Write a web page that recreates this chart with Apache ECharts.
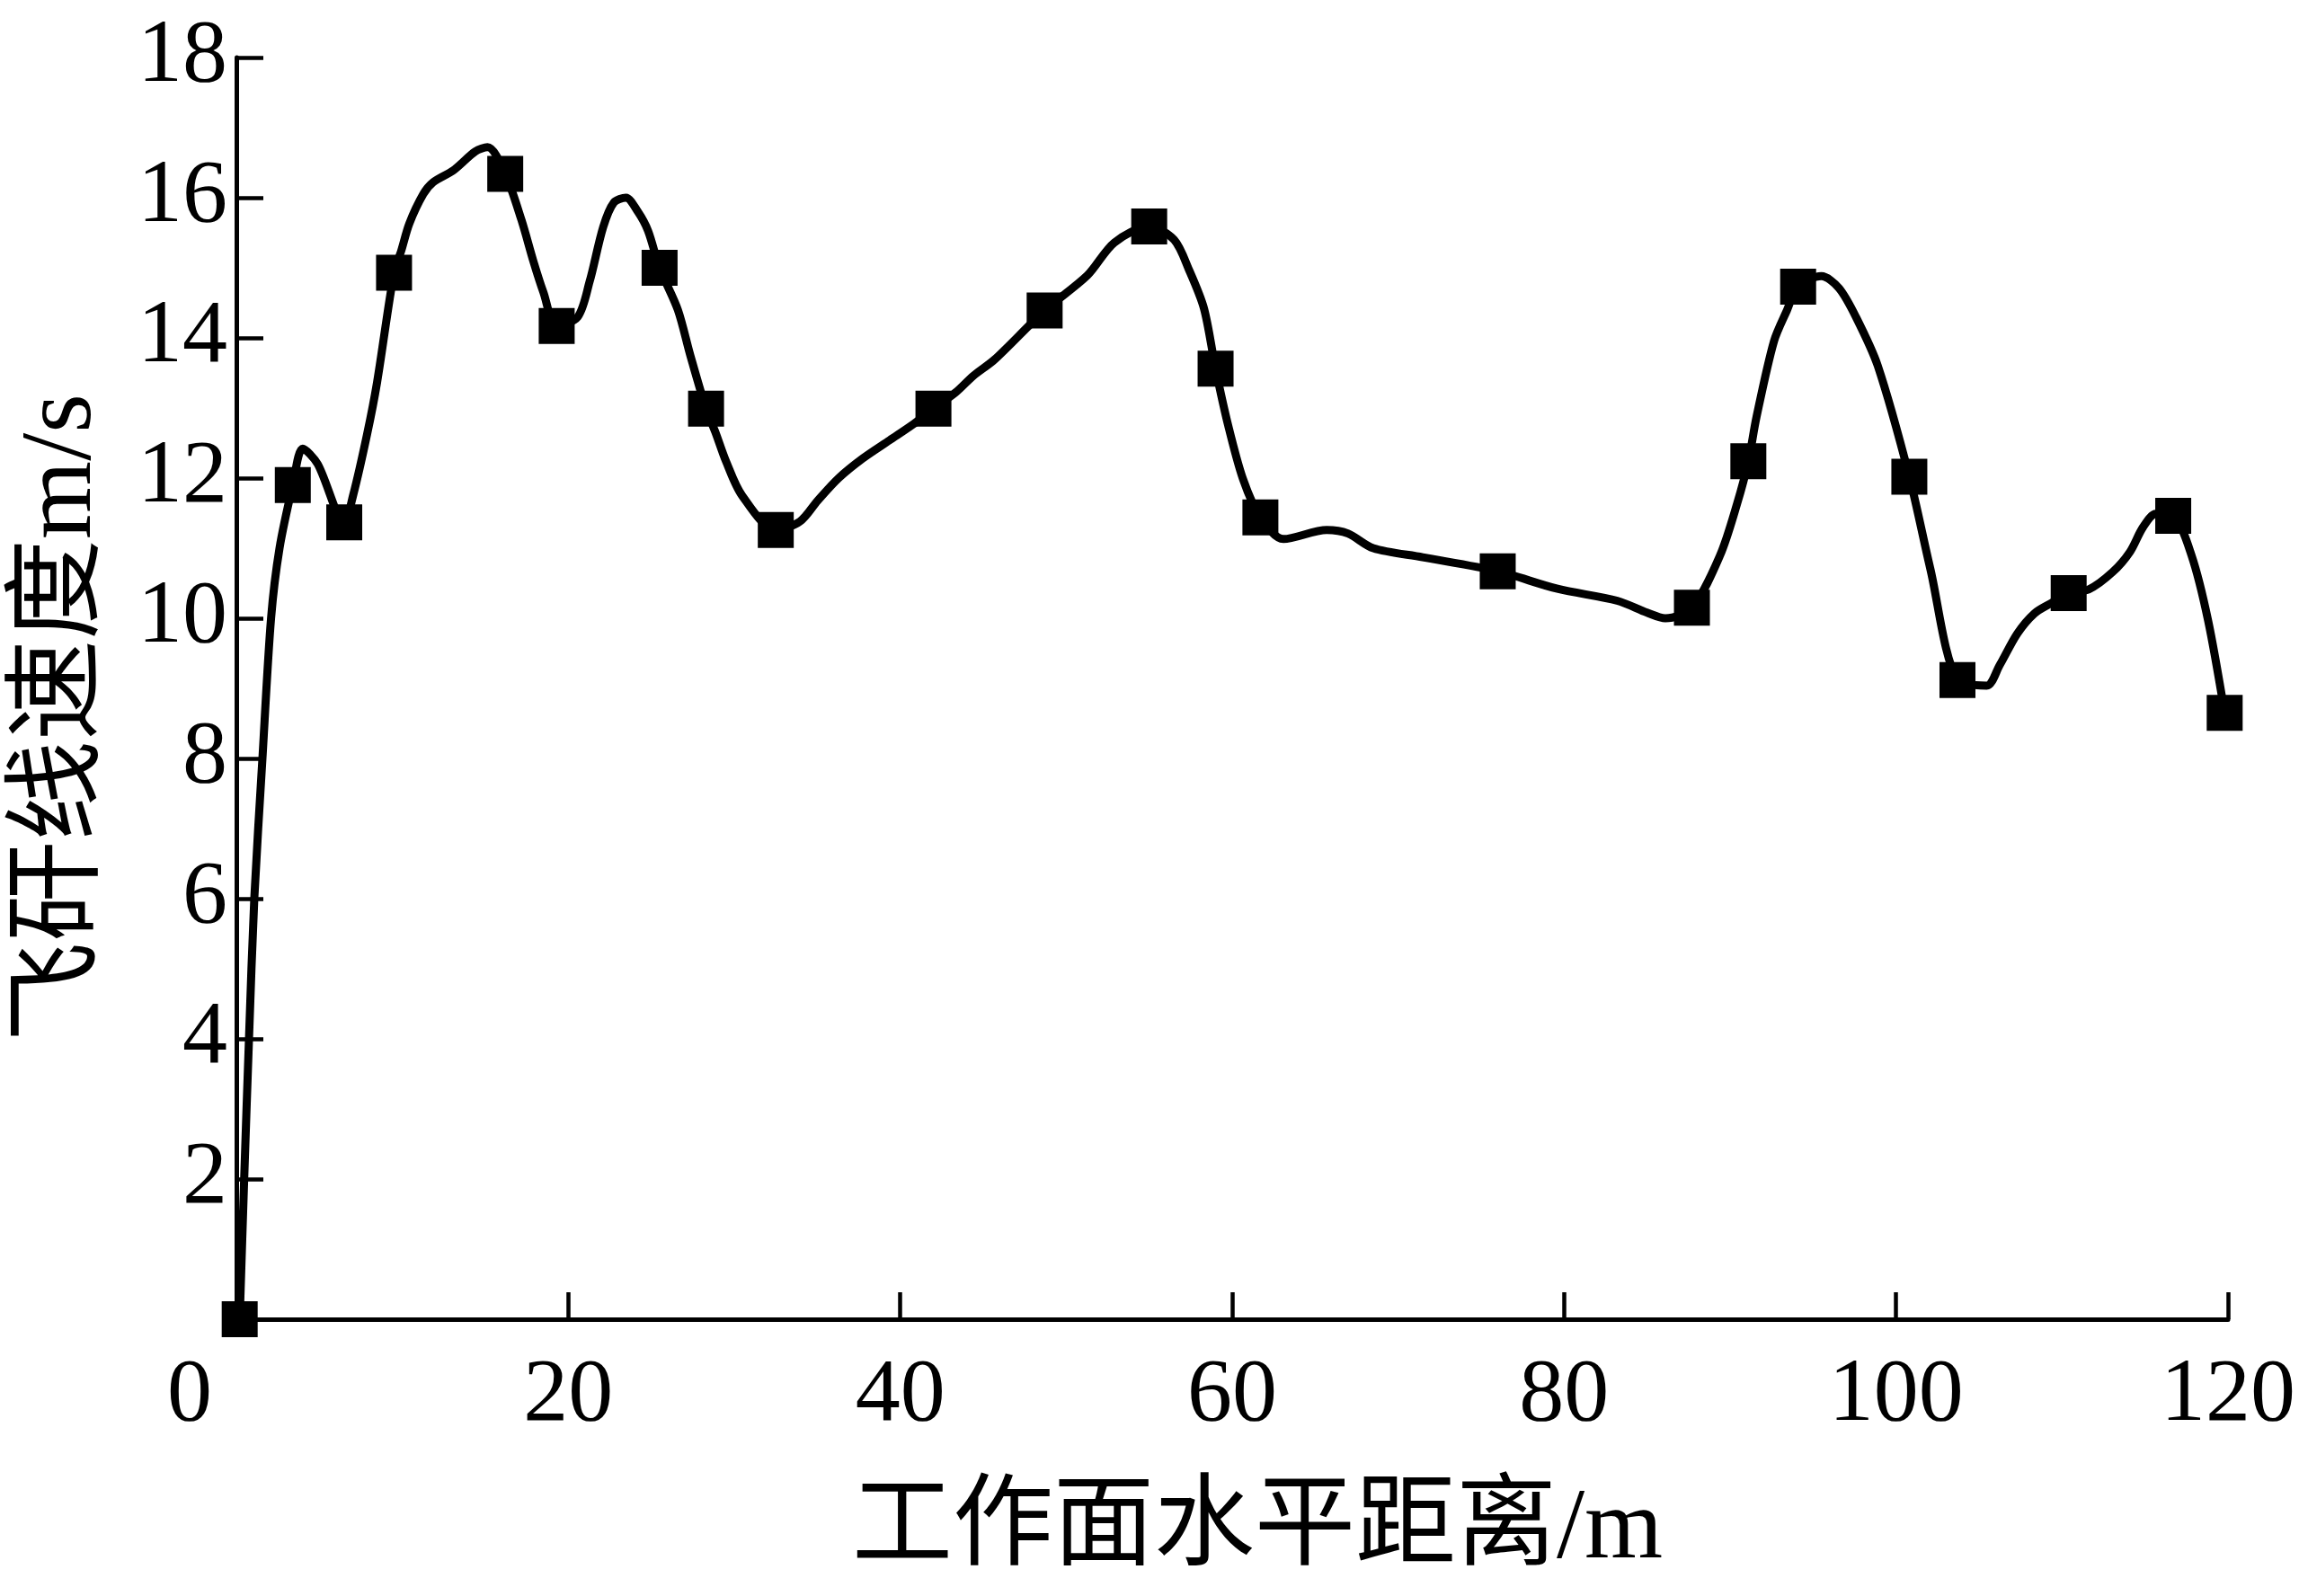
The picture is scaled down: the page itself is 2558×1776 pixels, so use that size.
<!DOCTYPE html>
<html>
<head>
<meta charset="utf-8">
<script src="https://cdn.jsdelivr.net/npm/echarts@6.0.0/dist/echarts.min.js"></script>
<style>
html,body{margin:0;padding:0;background:#fff;}
#chart{width:2558px;height:1776px;}
</style>
</head>
<body>
<div id="chart"></div>
<script>
// Marker points (horizontal distance m, velocity m/s)
const markerX = [0.2, 3.4, 6.5, 9.5, 16.2, 19.3, 25.5, 28.3, 32.5, 42.0, 48.7, 55.0, 59.0, 61.7, 76.0, 87.7, 91.1, 94.1, 100.8, 103.7, 110.4, 116.7, 119.8];
const markerY = [0, 11.9, 11.37, 14.93, 16.34, 14.17, 15.0, 12.99, 11.26, 12.99, 14.39, 15.59, 13.56, 11.44, 10.67, 10.15, 12.24, 14.73, 12.02, 9.12, 10.36, 11.46, 8.65];

// Fitted curve
const curveX = [0.2, 0.47, 0.76, 1.08, 1.57, 2.09, 2.6, 3.4, 4.0, 4.9, 6.5, 7.03, 7.88, 8.48, 9.5, 9.93, 10.42, 11.26, 11.86, 13.07, 14.4, 15.13, 16.2, 17.18, 17.9, 18.5, 19.3, 20.57, 21.28, 22.1, 22.74, 23.47, 24.19, 24.8, 25.5, 26.6, 27.34, 28.3, 28.9, 29.5, 30.47, 32.5, 33.95, 35.03, 36.29, 37.74, 39.36, 40.8, 42.0, 43.33, 44.41, 45.68, 48.7, 51.27, 52.9, 55.0, 56.5, 57.4, 58.3, 59.0, 59.76, 60.66, 61.7, 63.09, 65.7, 66.97, 68.5, 71.48, 76.0, 79.6, 83.2, 85.0, 86.1, 87.7, 89.4, 90.43, 91.1, 91.59, 92.64, 93.42, 94.1, 95.5, 96.56, 97.6, 98.9, 100.8, 102.06, 103.7, 105.46, 106.24, 107.3, 108.34, 109.38, 110.4, 111.6, 113.05, 114.1, 114.88, 115.66, 116.7, 117.8, 118.8, 119.8];
const curveY = [0, 2, 4, 6, 8, 10, 11, 11.9, 12.42, 12.2, 11.37, 11.75, 12.63, 13.37, 14.93, 15.24, 15.63, 16.05, 16.22, 16.39, 16.66, 16.72, 16.34, 15.68, 15.09, 14.65, 14.17, 14.3, 14.8, 15.58, 15.93, 16.0, 15.8, 15.53, 15.0, 14.4, 13.76, 12.99, 12.63, 12.24, 11.75, 11.26, 11.38, 11.68, 12.0, 12.28, 12.54, 12.77, 12.99, 13.22, 13.46, 13.69, 14.39, 14.89, 15.36, 15.59, 15.4, 14.97, 14.42, 13.56, 12.75, 11.98, 11.44, 11.13, 11.26, 11.21, 11.0, 10.87, 10.67, 10.42, 10.25, 10.08, 10.0, 10.15, 10.9, 11.64, 12.24, 12.87, 13.95, 14.39, 14.73, 14.88, 14.71, 14.29, 13.6, 12.02, 10.71, 9.12, 9.04, 9.33, 9.78, 10.07, 10.22, 10.36, 10.41, 10.66, 10.95, 11.3, 11.49, 11.46, 10.9, 9.97, 8.65];

const xTicks = [0, 20, 40, 60, 80, 100, 120];
const yTicks = [2, 4, 6, 8, 10, 12, 14, 16, 18];

const xTitle = '工作面水平距离/m';
const yTitle = '飞矸线速度m/s';

const FONT = "'Liberation Serif', 'Times New Roman', 'Noto Sans CJK SC', serif";

const chart = echarts.init(document.getElementById('chart'), null, {renderer: 'canvas'});
const curveData = curveX.map((x, i) => [x, curveY[i]]);
const markerData = markerX.map((x, i) => [x, markerY[i]]);

chart.setOption({
  backgroundColor: '#ffffff',
  animation: false,
  grid: {left: 263, top: 64, width: 2216, height: 1404, containLabel: false},
  xAxis: {
    type: 'value', min: xTicks[0], max: xTicks[xTicks.length - 1], interval: 20,
    name: xTitle, nameLocation: 'middle', nameGap: 180,
    nameTextStyle: {fontSize: 112, fontFamily: FONT, color: '#000', padding: [0, 0, 0, 56]},
    axisLine: {show: true, lineStyle: {color: '#000', width: 5}},
    axisTick: {show: true, inside: true, length: 30, lineStyle: {color: '#000', width: 4.5}},
    splitLine: {show: false},
    axisLabel: {
      fontSize: 100, fontFamily: FONT, color: '#000', margin: 36,
      formatter: v => (v === 0 ? '{z|0}' : String(v)),
      rich: {z: {fontSize: 100, fontFamily: FONT, color: '#000', padding: [0, 104, 0, 0]}}
    }
  },
  yAxis: {
    type: 'value', min: 0, max: yTicks[yTicks.length - 1], interval: 2,
    name: yTitle, nameLocation: 'middle', nameGap: 136, nameRotate: 90,
    nameTextStyle: {fontSize: 112, fontFamily: FONT, color: '#000', padding: [0, 66, 0, 0]},
    axisLine: {show: true, lineStyle: {color: '#000', width: 5}},
    axisTick: {show: true, inside: true, length: 30, lineStyle: {color: '#000', width: 4.5}},
    splitLine: {show: false},
    axisLabel: {
      fontSize: 100, fontFamily: FONT, color: '#000', margin: 10,
      formatter: v => (yTicks.indexOf(v) >= 0 ? String(v) : '')
    }
  },
  series: [
    {
      type: 'line', data: curveData, smooth: 0.3, showSymbol: false,
      lineStyle: {color: '#000', width: 9}, z: 2
    },
    {
      type: 'scatter', data: markerData, symbol: 'rect', symbolSize: 40,
      itemStyle: {color: '#000', opacity: 1}, z: 3
    }
  ]
});
</script>
</body>
</html>
